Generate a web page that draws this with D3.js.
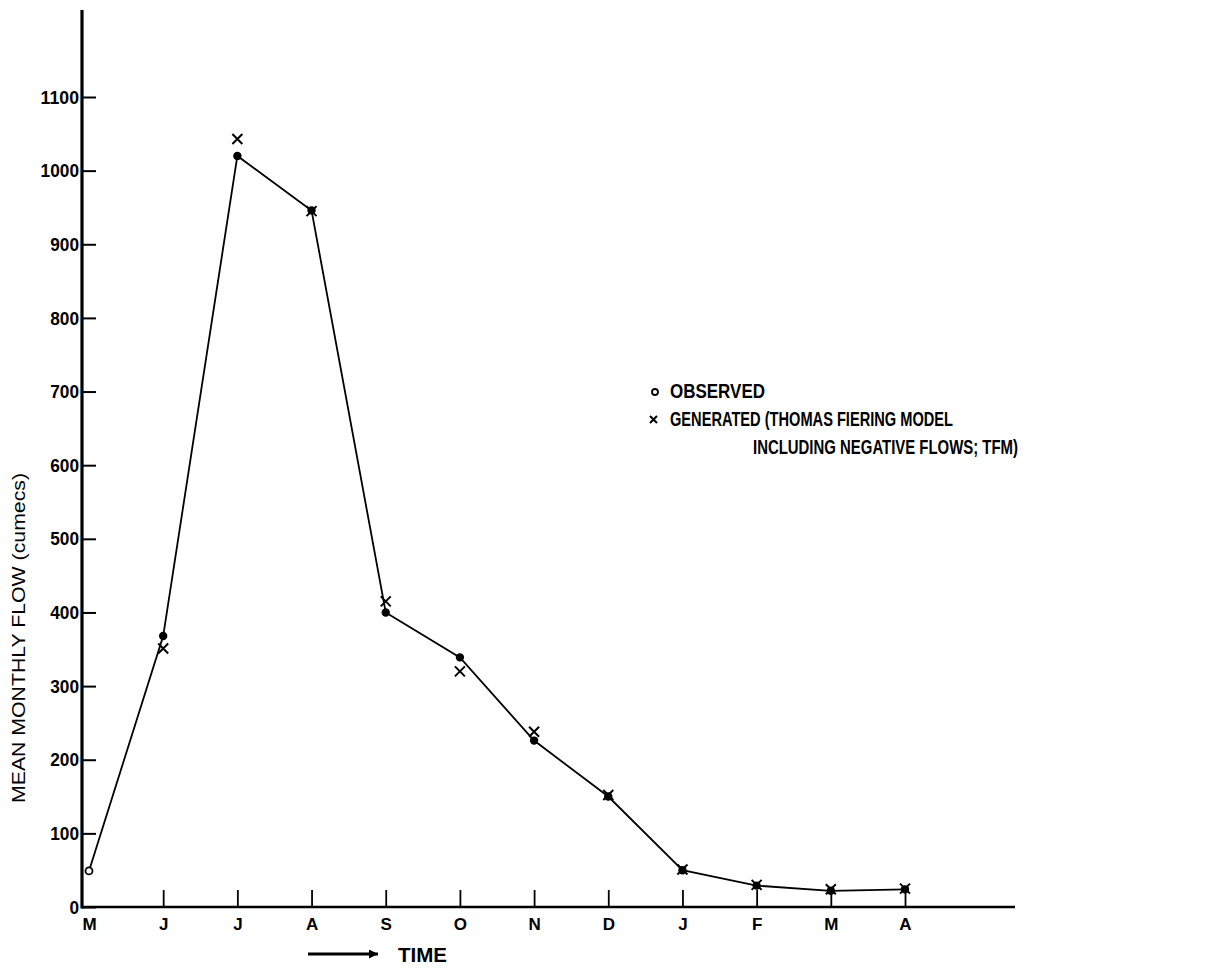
<!DOCTYPE html>
<html>
<head>
<meta charset="utf-8">
<script src="https://cdn.jsdelivr.net/npm/d3@7"></script>
<style>
  html, body { margin: 0; padding: 0; background: #fff; }
  svg { display: block; }
  text { font-family: "Liberation Sans", Arial, sans-serif; fill: #000; }
</style>
</head>
<body>
<div id="chart"></div>
<script>
// ---- data ----
const months = ["M", "J", "J", "A", "S", "O", "N", "D", "J", "F", "M", "A"];
const observed = [49, 368, 1020, 946, 400, 339, 226, 150, 50, 29, 22, 24];
const generated = [null, 351, 1043, 945, 415, 320, 238, 152, 51, 30, 24, 25];
const yTicks = [0, 100, 200, 300, 400, 500, 600, 700, 800, 900, 1000, 1100];
const yTitle = "MEAN MONTHLY FLOW (cumecs)";
const xTitle = "TIME";
const legendLabels = ["OBSERVED", "GENERATED (THOMAS FIERING MODEL", "INCLUDING NEGATIVE FLOWS; TFM)"];

// ---- layout ----
const W = 1207, H = 970;
const svg = d3.select("#chart").append("svg").attr("width", W).attr("height", H);
svg.append("rect").attr("width", W).attr("height", H).attr("fill", "#fff");

const x = d3.scaleLinear().domain([0, 11]).range([89, 905]);
const y = d3.scaleLinear().domain([0, 1100]).range([907, 97]);
const x0 = 82, y0 = y(0);

// y axis
const yAxis = d3.axisLeft(y).tickValues(yTicks).tickSize(-14).tickPadding(3).tickFormat(d3.format("d"));
const gy = svg.append("g").attr("transform", `translate(${x0},0)`).call(yAxis);
gy.select(".domain").remove();
gy.selectAll(".tick line").attr("stroke", "#000").attr("stroke-width", 2);
gy.selectAll(".tick text").attr("font-size", 19).attr("font-weight", "bold")
  .attr("textLength", d => String(d).length * 9.6).attr("lengthAdjust", "spacingAndGlyphs");
svg.append("line").attr("x1", x0).attr("x2", x0).attr("y1", 10).attr("y2", y0 + 1.5)
  .attr("stroke", "#000").attr("stroke-width", 3.2);

// x axis
const xAxis = d3.axisBottom(x).tickValues(d3.range(months.length)).tickSize(-17).tickPadding(11)
  .tickFormat(i => months[i]);
const gx = svg.append("g").attr("transform", `translate(0,${y0})`).call(xAxis);
gx.select(".domain").remove();
gx.selectAll(".tick line").attr("stroke", "#000").attr("stroke-width", 1.8)
  .attr("opacity", (d, i) => i === 0 ? 0 : 1);
gx.selectAll(".tick text").attr("font-size", 17).attr("font-weight", "bold");
svg.append("line").attr("x1", x0).attr("x2", 1015).attr("y1", y0).attr("y2", y0)
  .attr("stroke", "#000").attr("stroke-width", 2.6);

// y title
svg.append("text")
  .attr("transform", `translate(25,${(473 + 803) / 2}) rotate(-90)`)
  .attr("text-anchor", "middle")
  .attr("font-size", 19)
  .attr("textLength", 330).attr("lengthAdjust", "spacingAndGlyphs")
  .text(yTitle);

// x title with arrow
svg.append("defs").append("marker")
  .attr("id", "ah").attr("viewBox", "0 0 10 10").attr("refX", 10).attr("refY", 5)
  .attr("markerWidth", 7).attr("markerHeight", 3).attr("markerUnits", "strokeWidth")
  .attr("orient", "auto")
  .append("path").attr("d", "M0,0 L10,5 L0,10 Z").attr("fill", "#000");
svg.append("line").attr("x1", 308).attr("x2", 378).attr("y1", 954).attr("y2", 954)
  .attr("stroke", "#000").attr("stroke-width", 3).attr("marker-end", "url(#ah)");
svg.append("text").attr("x", 398).attr("y", 962).attr("font-size", 20).attr("font-weight", "bold")
  .attr("textLength", 49).attr("lengthAdjust", "spacingAndGlyphs").text(xTitle);

// observed line
const line = d3.line().x((d, i) => x(i)).y(d => y(d)).curve(d3.curveLinear);
svg.append("path").datum(observed).attr("d", line)
  .attr("fill", "none").attr("stroke", "#000").attr("stroke-width", 1.8);

// observed points
svg.append("g").selectAll("circle").data(observed).join("circle")
  .attr("cx", (d, i) => x(i)).attr("cy", d => y(d)).attr("r", (d, i) => i === 0 ? 3.5 : 3.3)
  .attr("fill", (d, i) => i === 0 ? "#fff" : "#000")
  .attr("stroke", "#000").attr("stroke-width", 1.8);

// generated points (crosses)
const cs = 5;
const gg = svg.append("g");
generated.forEach((d, i) => {
  if (d == null) return;
  const cx = x(i), cy = y(d);
  gg.append("path")
    .attr("d", `M${cx - cs},${cy - cs}L${cx + cs},${cy + cs}M${cx - cs},${cy + cs}L${cx + cs},${cy - cs}`)
    .attr("stroke", "#000").attr("stroke-width", 2).attr("fill", "none");
});

// legend
svg.append("circle").attr("cx", 655).attr("cy", 392).attr("r", 3)
  .attr("fill", "#fff").attr("stroke", "#000").attr("stroke-width", 1.8);
svg.append("path").attr("d", "M650,416L657,423M650,423L657,416")
  .attr("stroke", "#000").attr("stroke-width", 2);
const leg = [
  { t: legendLabels[0], x: 670, y: 398, w: 95 },
  { t: legendLabels[1], x: 670, y: 426, w: 283 },
  { t: legendLabels[2], x: 753, y: 454, w: 265 }
];
svg.append("g").selectAll("text").data(leg).join("text")
  .attr("x", d => d.x).attr("y", d => d.y)
  .attr("font-size", 20).attr("font-weight", "bold")
  .attr("textLength", d => d.w).attr("lengthAdjust", "spacingAndGlyphs")
  .text(d => d.t);
</script>
</body>
</html>
